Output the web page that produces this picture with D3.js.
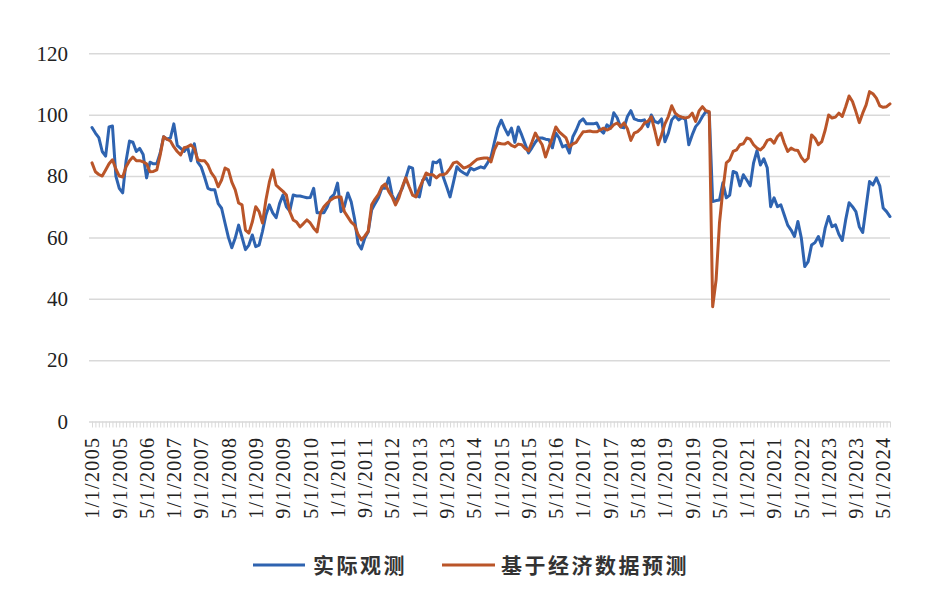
<!DOCTYPE html>
<html><head><meta charset="utf-8">
<script src="https://cdn.jsdelivr.net/npm/d3@7/dist/d3.min.js"></script>
<style>
html,body{margin:0;padding:0;background:#fff;}
svg{display:block;}
.serif{font-family:"Liberation Serif","Times New Roman",Times,serif;}
.cjk{font-family:"Noto Sans CJK SC","Noto Sans CJK JP",sans-serif;}
</style></head>
<body><svg id="chart" width="946" height="594"></svg>
<script>
// ---- data ----
const startYear = 2005, nMonths = 235; // monthly categories 1/1/2005 .. 7/1/2024
const categories = [];
for (let k = 0; k < nMonths; k++) {
  const yy = startYear + Math.floor(k / 12), mm = (k % 12) + 1;
  categories.push(mm + "/1/" + yy);
}
const tickLabels = ["1/1/2005","9/1/2005","5/1/2006","1/1/2007","9/1/2007","5/1/2008","1/1/2009","9/1/2009","5/1/2010","1/1/2011","9/1/2011","5/1/2012","1/1/2013","9/1/2013","5/1/2014","1/1/2015","9/1/2015","5/1/2016","1/1/2017","9/1/2017","5/1/2018","1/1/2019","9/1/2019","5/1/2020","1/1/2021","9/1/2021","5/1/2022","1/1/2023","9/1/2023","5/1/2024"];
const yTicks = [0,20,40,60,80,100,120];
const seriesNames = ["实际观测","基于经济数据预测"];

const actual = [
95.8,94,92.5,88,86.5,96,96.3,80,76,74.5,
85,91.4,91,88,89,87,79.4,84.5,84,84,
87.5,92.8,92,92.4,97,90,89,88,89.5,85,
90.5,84.5,83,79.7,76,75.5,75.5,71,69.5,64.7,
60,56.6,59.8,64,60,56,57.5,60.8,57,57.5,
62,67.3,70.6,68,66.4,71,73.8,70,68.6,73.8,
73.5,73.5,73.2,72.9,73,76,68,68,68,70,
73,74,77.7,68.4,70,74.5,71.6,
66,58,56.2,59.8,61.8,68.9,71,72.9,76,76,
79.4,73.8,71.6,74,76,79.4,83,82.6,73.8,73.2,
78.7,79.4,77.1,84.6,84.3,85.3,79.7,76.5,73.2,78,
83,81.7,81,80.4,82.6,82,82.5,83,82.6,84.3,
86.2,91,95.6,98.2,95.6,93.4,95.6,91,96,93.4,
90.4,87.5,89.2,91,92.4,92.4,92,91.8,89.2,94,
92.4,89.5,90,87.5,92.8,95,97.7,98.6,97,97,
97,97.3,95,94,96.7,95.6,100.6,99,
96,95.7,99.4,101.3,98.6,98.2,98,98.3,96.1,99.9,
97.8,97.3,98.6,91.2,94,98.3,99.6,98.3,99,98.5,
90.2,93.4,96.1,97.4,99.4,101,100.6,
71.7,72,72.2,77.8,72.9,73.8,81.5,81,76.8,80.4,
78.7,76.8,84.3,88.3,83.6,85.6,82.7,70,72.9,70,
70.6,67.3,64,62.4,60.3,65.2,59.8,50.5,52.1,57.5,
58.3,60.3,57.2,63.1,66.8,63.5,64.1,61,59,65.7,
71.3,70,68.4,63.5,61.6,70,78.2,77.1,79.4,76.8,
69.6,68.4,66.8
];
const predicted = [
84.3,81.4,80.5,80,82,84,85.3,82.3,80,79.7,
83,85,86.2,85,85,84.6,84,81.4,81.5,82,
86.9,92.8,92,91.4,89.5,88,86.9,89.2,89.5,90.2,
89,85.3,85,85,83.6,81,79.5,76.5,78.7,82.6,
82,78,75.5,71.2,70.6,62.4,61.4,65,70,68.4,
64.7,72.2,78,82,77,76,75,73.8,68.4,65.7,
65,63.4,64.5,65.7,64.7,63,61.8,68,70,71.2,
72.2,72.9,73.2,73.2,68.4,66.7,65,
64,61,59.2,60.5,62,70.6,72.5,74,76.5,77.4,
75,73.2,70.6,72.9,76.5,79.4,76.5,73.8,73.2,76,
78.5,81,80.4,80.4,79.4,80.4,80.4,81,82.5,84.3,
84.6,83.6,82.6,83,83.6,84.6,85.5,85.7,85.9,85.9,
84.6,88.5,90.8,90.5,90.4,91,90,89.5,90.4,90.2,
89,88.2,91,94,92,90.2,86.2,89.5,92.5,96,
94.4,93.4,92.4,89.5,90.5,91,92.8,94.4,94.5,94.7,
94.4,94.4,95,95.6,95,95.5,96.7,97.3,
96.1,97.3,95.4,91.6,94,94.5,95.5,97.3,97.8,99.3,
95,90.2,93.4,97,99.4,102.9,100.5,99.6,99.2,98.9,
99.2,100.5,97.8,101.2,102.6,101.3,101,
37.4,46.1,64.7,75.5,84.3,85.3,88,88.5,90.2,90.5,
92.4,92,90.2,89.1,88.5,89.6,91.6,92,90.7,92.9,
94,90.7,88,89.1,88.5,88.3,86.1,84.7,85.8,93.4,
92.3,90.2,91.2,95,99.9,98.9,99.2,100.5,99.4,102.6,
106.1,104.3,101,97.4,100.5,103.2,107.5,106.8,105.4,102.9,
102.4,102.6,103.5
];

// ---- drawing ----
const svg = d3.select("#chart");
const plotL = 89, plotR = 890, plotT = 53.3, plotB = 421.5;
const colors = ["#2E63B0", "#BA5529"];
const gridColor = "#d9d9d9";

const x = d3.scalePoint().domain(categories).range([92, 890]);
const y = d3.scaleLinear().domain([0, 120]).range([plotB, plotT]);

// gridlines
const grid = svg.append("g").attr("transform", `translate(${plotL},0)`)
  .call(d3.axisLeft(y).tickValues(yTicks.filter(v => v > 0)).tickSize(-(plotR - plotL)).tickFormat(""));
grid.select(".domain").remove();
grid.selectAll("line").attr("stroke", gridColor).attr("stroke-width", 1.5);

// y labels
const yAx = svg.append("g").attr("transform", `translate(68,0)`)
  .call(d3.axisLeft(y).tickValues(yTicks).tickSize(0).tickPadding(0));
yAx.attr("font-family", null).attr("font-size", null);
yAx.select(".domain").remove();
yAx.selectAll("text").attr("class", "serif").style("font-size", "21px")
  .attr("fill", "#222").attr("dy", "0.32em");

// x axis
const labelSet = new Set(tickLabels);
const xAx = svg.append("g").attr("transform", `translate(0,${plotB})`)
  .call(d3.axisBottom(x).tickValues(categories).tickSize(6).tickFormat(d => labelSet.has(d) ? d : ""));
xAx.attr("font-family", null).attr("font-size", null);
xAx.select(".domain").attr("stroke", gridColor).attr("stroke-width", 1.5)
  .attr("d", `M${plotL},0.5H${plotR}`);
xAx.selectAll(".tick line").attr("stroke", gridColor).attr("stroke-width", 1);
xAx.selectAll(".tick text")
  .attr("class", "serif").style("font-size", "20px")
  .attr("letter-spacing", 1.4).attr("fill", "#222")
  .attr("text-anchor", "end")
  .attr("transform", "rotate(-90)")
  .attr("x", -15).attr("y", 0).attr("dy", "0.34em");

// lines
const line = d3.line().x((d, i) => x(categories[i])).y(d => y(d));
[actual, predicted].forEach((s, k) => {
  svg.append("path").datum(s).attr("d", line)
    .attr("fill", "none").attr("stroke", colors[k]).attr("stroke-width", 3)
    .attr("stroke-linejoin", "round").attr("stroke-linecap", "round");
});

// legend
const legendItems = [{x1: 253, x2: 305, tx: 313}, {x1: 442, x2: 495, tx: 501}];
legendItems.forEach((L, k) => {
  svg.append("line").attr("x1", L.x1).attr("x2", L.x2).attr("y1", 565).attr("y2", 565)
    .attr("stroke", colors[k]).attr("stroke-width", 3);
  svg.append("text").attr("class", "cjk").attr("x", L.tx).attr("y", 566).attr("dy", "0.35em")
    .style("font-size", "21px")
    .attr("font-weight", 700).attr("letter-spacing", 2.5).attr("fill", "#333")
    .text(seriesNames[k]);
});
</script>
</body></html>
